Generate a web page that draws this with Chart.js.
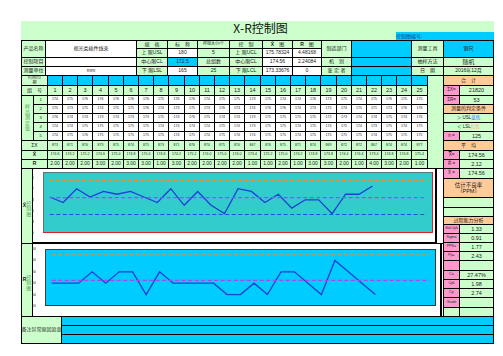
<!DOCTYPE html>
<html>
<head>
<meta charset="utf-8">
<script src="https://cdn.jsdelivr.net/npm/chart.js@4"></script>
<style>
body { margin: 0; background: #fff; }
#sheet { position: relative; width: 503px; height: 356px; overflow: hidden;
  font-family: "Liberation Sans", "Noto Sans CJK SC", sans-serif; }
.b { position: absolute; box-sizing: border-box; border: 1px solid #000; display: flex;
  align-items: center; justify-content: center; text-align: center; line-height: 1.1;
  white-space: nowrap; overflow: hidden; color: #222; }
.g { background: #ccffcc; } .w { background: #fff; } .c { background: #00ccff; }
.p { background: #ff99cc; } .o { background: #ffcc99; } .n { border: none; }
.v { color: #4f9a4f; white-space: normal; }
canvas { position: absolute; }
</style>
</head>
<body>
<div id="sheet"></div>
<script>
// X-R control chart sheet: 25 subgroups of 5
const groupNo = ["1","2","3","4","5","6","7","8","9","10","11","12","13","14","15","16","17","18","19","20","21","22","23","24","25"];
const xAxisLabels = ["1","2","3","4","5","6","7","8","9","10","11","12","13","14","15","16","17","18","19","20","21","22","23","24","25","","","",""];
const rAxisLabels = ["1","2","3","4","5","6","7","8","9","10","11","12","13","14","15","16","17","18","19","20","21","22","23","24","25","26","27","28","29"];

const sample1 = [174,175,176,176,176,176,176,175,176,176,174,175,175,173,175,174,174,176,173,175,174,175,176,175,175];
const sample2 = [175,173,175,174,175,175,176,174,173,175,173,176,173,174,176,176,174,173,175,174,175,171,173,176,176];
const sample3 = [176,174,174,173,174,173,173,175,174,176,175,174,174,173,175,175,175,175,172,173,174,174,175,174,176];
const sample4 = [174,174,175,175,175,175,175,174,174,174,174,175,174,173,175,175,174,175,174,175,174,173,175,174,175];
const sample5 = [174,175,176,175,175,175,175,175,174,175,174,175,174,174,175,175,174,175,175,175,175,174,175,175,175];
const sumX = [873,871,876,873,875,874,875,873,871,876,870,875,870,867,876,875,871,874,869,872,872,867,874,874,877];
const xbar = [174.6,174.2,175.2,174.6,175.0,174.8,175.0,174.6,174.2,175.2,174.0,175.0,174.0,173.4,175.2,175.0,174.2,174.8,173.8,174.4,174.4,173.4,174.8,174.8,175.4];
const rangeR = [2,2,2,3,2,3,3,1,3,2,2,2,2,1,1,2,1,3,3,2,1,4,3,2,1];

const xUCL = 175.78324, xCL = 174.56, xLCL = 173.33676;
const rUCL = 4.48168, rCL = 2.24084;
const xTicks = { min: 172, max: 176.4, step: 0.4 };
const rTicks = { min: 0, max: 5, step: 0.5 };

const sheet = document.getElementById("sheet");
function box(x1, y1, x2, y2, html, cls, fs, extra) {
  const d = document.createElement("div");
  d.className = "b " + (cls || "");
  const l = Math.round(x1), t = Math.round(y1);
  d.style.left = l + "px";
  d.style.top = t + "px";
  d.style.width = Math.round(x2) - l + 1 + "px";
  d.style.height = Math.round(y2) - t + 1 + "px";
  d.style.fontSize = (fs || 5) + "px";
  d.innerHTML = html == null ? "" : html;
  if (extra) Object.assign(d.style, extra);
  sheet.appendChild(d);
  return d;
}

// title band
box(21, 21, 493, 40, "", "g n");
box(120, 21, 400, 33, '<span style="text-decoration:overline">X</span>-R控制图', "n",
  12, { fontFamily: '"Noto Sans CJK SC"', color: "#111", background: "transparent" });
box(396, 32, 493, 40, "控制图编号:", "c n", 5, { justifyContent: "flex-start", color: "#1a3a8a" });

// header block
const hx = [21, 45, 136, 167, 197, 229, 262, 292, 321, 351, 411, 443, 493];
const rA = 40, rB = 48, rC = 57, rD = 66, rE = 75;
box(hx[0], rA, hx[1], rC, "产品名称", "g");
box(hx[1], rA, hx[2], rC, "视光类插件线束", "w");
box(hx[2], rA, hx[3], rB, "规　格", "g");
box(hx[3], rA, hx[4], rB, "标　称", "g");
box(hx[4], rA, hx[5], rB, "样组大小/个", "g", 4, { whiteSpace: "normal" });
box(hx[5], rA, hx[6], rB, "控　制", "g");
box(hx[6], rA, hx[7], rB, "<b>X̄</b>　图", "g");
box(hx[7], rA, hx[8], rB, "<b>R</b>　图", "g");
box(hx[8], rA, hx[9], rC, "制造部门", "g");
box(hx[9], rA, hx[10], rC, "", "c");
box(hx[10], rA, hx[11], rC, "测量工具", "g");
box(hx[11], rA, hx[12], rC, "钢尺", "c");

box(hx[2], rB, hx[3], rC, "上 限USL", "g");
box(hx[3], rB, hx[4], rC, "180", "w");
box(hx[4], rB, hx[5], rC, "5", "g");
box(hx[5], rB, hx[6], rC, "上 限UCL", "g");
box(hx[6], rB, hx[7], rC, String(xUCL), "w");
box(hx[7], rB, hx[8], rC, String(rUCL), "w");

box(hx[0], rC, hx[1], rD, "控制项目", "g");
box(hx[1], rC, hx[2], rD, "", "w");
box(hx[2], rC, hx[3], rD, "中心限CL", "g");
box(hx[3], rC, hx[4], rD, "172.5", "c");
box(hx[4], rC, hx[5], rD, "总组数", "g");
box(hx[5], rC, hx[6], rD, "中心限CL", "g");
box(hx[6], rC, hx[7], rD, xCL.toFixed(2), "w");
box(hx[7], rC, hx[8], rD, String(rCL), "w");
box(hx[8], rC, hx[9], rD, "机　别", "g");
box(hx[9], rC, hx[10], rD, "", "c");
box(hx[10], rC, hx[11], rD, "抽样方法", "g");
box(hx[11], rC, hx[12], rD, "随机", "g", 6);

box(hx[0], rD, hx[1], rE, "测量单位", "g");
box(hx[1], rD, hx[2], rE, "mm", "w");
box(hx[2], rD, hx[3], rE, "下 限LSL", "g");
box(hx[3], rD, hx[4], rE, "165", "w");
box(hx[4], rD, hx[5], rE, "25", "g");
box(hx[5], rD, hx[6], rE, "下 限LCL", "g");
box(hx[6], rD, hx[7], rE, String(xLCL), "w");
box(hx[7], rD, hx[8], rE, "0", "w");
box(hx[8], rD, hx[9], rE, "鉴 定 者", "g");
box(hx[9], rD, hx[10], rE, "", "c");
box(hx[10], rD, hx[11], rE, "日　期", "g");
box(hx[11], rD, hx[12], rE, "2016年12月", "g");

// data grid
const colX = (i) => 46.7 + 15.2 * i;
const rowF = 85, rowS = [95, 104, 113, 122, 131, 140], rowSum = 140, rowMean = 150, rowR = 159, rowEnd = 168;
box(21, rE, colX(0), rowF, "时间/日<br>期", "g", 4);
box(21, rowF, colX(0), rowS[0], "组　号", "g");
box(21, rowS[0], 33.3, rowS[5], "样<br>品<br>测<br>定<br>值", "g v", 5);
box(21, rowSum, colX(0), rowMean, "ΣX", "g");
box(21, rowMean, colX(0), rowR, "<b>X̄</b>", "g");
box(21, rowR, colX(0), rowEnd, "<b>R</b>", "g");
const samples = [sample1, sample2, sample3, sample4, sample5];
for (let k = 0; k < 5; k++) box(33.3, rowS[k], colX(0), rowS[k + 1], String(k + 1), "g", 4);
groupNo.forEach((g, i) => {
  const a = colX(i), b = colX(i + 1);
  box(a, rE, b, rowF, "", "c");
  box(a, rowF, b, rowS[0], g, "g", 5.5);
  samples.forEach((s, k) => box(a, rowS[k], b, rowS[k + 1], s[i], "w", 3.5));
  box(a, rowSum, b, rowMean, sumX[i], "g", 3.5);
  box(a, rowMean, b, rowR, xbar[i].toFixed(1), "g", 3.5);
  box(a, rowR, b, rowEnd, rangeR[i].toFixed(2), "g", 5);
});
box(colX(25), rE, 443, rowEnd, "", "g");

// right panel
const px = [443, 458.5, 493];
const pair = (y1, y2, lab, val, fs) => { box(px[0], y1, px[1], y2, lab, "p", fs || 4.5); box(px[1], y1, px[2], y2, val, "g", 5.5); };
box(px[0], rE, px[2], rowF, "合　计", "o");
pair(85, 95, "ΣX=", "21820");
pair(95, 104, "ΣR=", "53");
box(px[0], 104, px[2], 113, "测量的判定条件", "o");
box(px[0], 113, px[2], 122, '＞ USL <span style="color:#3366ff">蓝色</span>', "g", 4.5);
box(px[0], 122, px[2], 131, '＜ LSL <span style="color:#ff9999">红色</span>', "g", 4.5);
pair(131, 140, "n =", "125");
box(px[0], 140, px[2], 150, "平　均", "o");
pair(150, 159, '<span style="text-decoration:overline">X̄</span> =', xCL.toFixed(2));
pair(159, 168, "R̄ =", "2.12");
pair(168, 178, "X̄ =", "174.56");
box(px[0], 178, px[2], 197, "估计不良率<br>（PPM）", "o", 5.5);
box(px[0], 197, px[2], 207, "", "g");
box(px[0], 207, px[2], 216, "", "g");
box(px[0], 216, px[2], 224, "过程能力分析", "o", 5);
pair(224, 233, "Std.Cpk", "1.33", 3.5);
pair(233, 242, "Sigma", "0.91", 3.5);
pair(242, 251, "PPK=", "1.77", 3.5);
pair(251, 260, "Pp=", "2.43", 3.5);
pair(260, 270, "", "");
pair(270, 279, "Ca", "27.47%", 3.5);
pair(279, 288, "Cpk", "1.98", 3.5);
pair(288, 297, "Cp", "2.74", 3.5);
pair(297, 307, "Grade", "", 3.5);
box(px[0], 307, px[1], 316, "", "g");
box(px[1], 307, px[2], 316, "", "g");

// chart frames
box(21, 168, 32.3, 243, '<b style="color:#222">X̄</b><br>控<br>制<br>图', "g v", 5);
box(21, 243, 32.3, 316, '<b style="color:#222">R</b><br>控<br>制<br>图', "g v", 5);
box(32.3, 168, 436, 243, "", "w", 5, { borderRightWidth: "2px", borderBottomWidth: "2px" });
box(32.3, 243, 441, 316, "", "w", 5, { borderRightWidth: "2px" });
box(436, 168, 443, 243, "", "w");

// notes
box(21, 316, 60.7, 343, "备注异常原因追查", "g", 5);
box(60.7, 316, 493, 325, "", "c");
box(60.7, 325, 493, 334, "", "c");
box(60.7, 334, 493, 343, "", "c");

// charts
function addCanvas(l, t, w, h) {
  const c = document.createElement("canvas");
  c.width = w; c.height = h;
  c.style.left = l + "px"; c.style.top = t + "px";
  c.style.width = w + "px"; c.style.height = h + "px";
  sheet.appendChild(c);
  return c;
}

const plotFrame = (fill, side, base) => ({
  id: "plotFrame",
  beforeDatasetsDraw(chart) {
    const { ctx, chartArea: a } = chart;
    ctx.save();
    ctx.fillStyle = fill;
    ctx.fillRect(a.left, a.top, a.right - a.left, a.bottom - a.top);
    ctx.lineWidth = 1;
    ctx.strokeStyle = side;
    ctx.beginPath();
    ctx.moveTo(a.left + 0.5, a.bottom); ctx.lineTo(a.left + 0.5, a.top + 0.5); ctx.lineTo(a.right, a.top + 0.5);
    ctx.stroke();
    ctx.strokeStyle = base;
    ctx.beginPath();
    ctx.moveTo(a.right - 0.5, a.top); ctx.lineTo(a.right - 0.5, a.bottom - 0.5); ctx.lineTo(a.left, a.bottom - 0.5);
    ctx.stroke();
    ctx.restore();
  },
});

const limit = (v, color, n) => ({
  data: n.map(() => v), borderColor: color, borderWidth: 1.2, borderDash: [4, 2.5], pointRadius: 0,
});

function controlChart(canvas, labels, values, limits, ticks, fmt, yWidth, pad, frame) {
  return new Chart(canvas, {
    type: "line",
    data: {
      labels,
      datasets: [
        ...limits.map((l) => limit(l[0], l[1], labels)),
        { data: values, borderColor: "#1c3fd6", borderWidth: 1.3, pointRadius: 0, tension: 0 },
      ],
    },
    options: {
      responsive: false, animation: false, devicePixelRatio: 1,
      layout: { padding: pad },
      plugins: { legend: { display: false }, tooltip: { enabled: false } },
      scales: {
        x: {
          offset: true, grid: { display: false }, border: { display: false },
          ticks: { autoSkip: false, maxRotation: 0, padding: 1, color: "#333", font: { size: 3.5 } },
          afterFit: (s) => { s.height = 9; },
        },
        y: {
          min: ticks.min, max: ticks.max, grid: { display: false }, border: { display: false },
          ticks: { stepSize: ticks.step, padding: 1, color: "#333", font: { size: 3.5 }, callback: fmt },
          afterFit: (s) => { s.width = yWidth; },
        },
      },
    },
    plugins: [frame],
  });
}

controlChart(addCanvas(32, 169, 404, 73), xAxisLabels, xbar,
  [[xUCL, "#e0902a"], [xCL, "#b040f0"], [xLCL, "#1f4fe0"]],
  xTicks, (v) => Number(v).toFixed(1), 11, { top: 3, right: 3 },
  plotFrame("#33cccc", "#607070", "#e02020"));

controlChart(addCanvas(32, 244, 408, 71), rAxisLabels, rangeR,
  [[rUCL, "#e0902a"], [rCL, "#b040f0"]],
  rTicks, (v) => Number(v).toFixed(2), 13, { top: 5, right: 4 },
  plotFrame("#00ccff", "#404040", "#303030"));
</script>
</body>
</html>
